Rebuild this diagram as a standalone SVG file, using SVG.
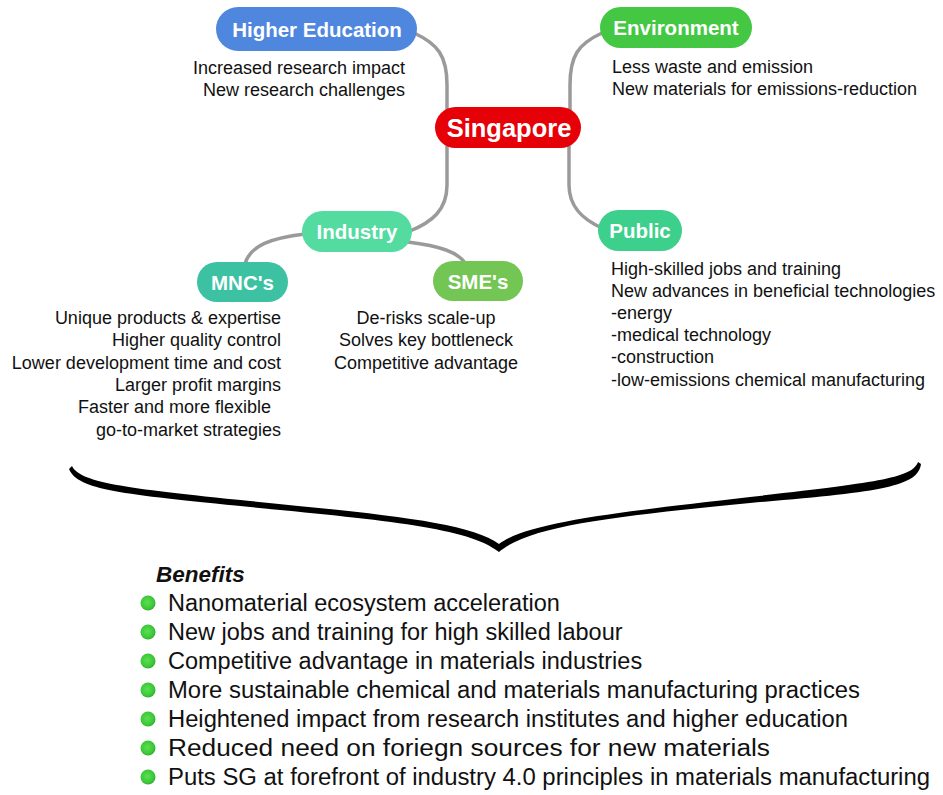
<svg xmlns="http://www.w3.org/2000/svg" width="943" height="795" viewBox="0 0 943 795">
<style>
.node text{font-family:"Liberation Sans",Arial,sans-serif;font-weight:bold;fill:#fff;text-anchor:middle;dominant-baseline:central}
.lbl{font-family:"Liberation Sans",Arial,sans-serif;font-size:18px;fill:#111}
.r{text-anchor:end}
.m{text-anchor:middle}
.conn path{fill:none;stroke:#9a9a9a;stroke-width:3.5;stroke-linecap:round}
.ben{font-family:"Liberation Sans",Arial,sans-serif;font-size:23.5px;fill:#111}
.dot{fill:url(#g)}
</style>
<defs>
<radialGradient id="g" cx="0.45" cy="0.45" r="0.6">
<stop offset="0" stop-color="#5be04f"/>
<stop offset="0.7" stop-color="#3cc83a"/>
<stop offset="1" stop-color="#2aa52a"/>
</radialGradient>
</defs>
<rect width="943" height="795" fill="#fff"/>
<g id="connectors" class="conn">
<path d="M414,33 C438,44 447,56 447,85 L447,110"/>
<path d="M602,33 C578,44 570,56 570,85 L570,110"/>
<path d="M447,146 L447,185 C447,210 432,222 410,231"/>
<path d="M569,146 L569,185 C569,208 584,220 602,228"/>
<path d="M305,234 C272,238 250,245 245,264"/>
<path d="M408,242 C440,246 458,252 466,264"/>
</g>
<g id="higher-education" class="node">
<rect x="216" y="7" width="201" height="44" rx="22" fill="#4f87df"/>
<text x="317" y="29" font-size="20.5">Higher Education</text>
</g>
<g id="environment" class="node">
<rect x="600" y="7" width="152" height="41" rx="20.5" fill="#44c843"/>
<text x="676" y="27.5" font-size="20.5">Environment</text>
</g>
<g id="singapore" class="node">
<rect x="435" y="107" width="146" height="41" rx="20.5" fill="#e60008"/>
<text x="509" y="128" font-size="25.5">Singapore</text>
</g>
<g id="industry" class="node">
<rect x="302" y="211" width="110" height="41" rx="20.5" fill="#53dba0"/>
<text x="357" y="231.5" font-size="20.5">Industry</text>
</g>
<g id="public" class="node">
<rect x="598" y="210" width="84" height="41" rx="20.5" fill="#3dd08c"/>
<text x="640" y="230.5" font-size="20.5">Public</text>
</g>
<g id="mncs" class="node">
<rect x="197" y="262" width="91" height="40" rx="20" fill="#3cc2a2"/>
<text x="242.5" y="282" font-size="20.5">MNC's</text>
</g>
<g id="smes" class="node">
<rect x="433" y="261" width="90" height="40" rx="20" fill="#73c654"/>
<text x="478" y="281" font-size="20.5">SME's</text>
</g>
<g id="higher-education-text" class="lbl r">
<text x="405" y="74">Increased research impact</text>
<text x="405" y="96">New research challenges</text>
</g>
<g id="environment-text" class="lbl">
<text x="612" y="73">Less waste and emission</text>
<text x="612" y="95">New materials for emissions-reduction</text>
</g>
<g id="mnc-text" class="lbl r">
<text x="281" y="324">Unique products &amp; expertise</text>
<text x="281" y="346">Higher quality control</text>
<text x="281" y="369">Lower development time and cost</text>
<text x="281" y="391">Larger profit margins</text>
<text x="271" y="413">Faster and more flexible</text>
<text x="281" y="436">go-to-market strategies</text>
</g>
<g id="sme-text" class="lbl m">
<text x="426" y="324">De-risks scale-up</text>
<text x="426" y="346">Solves key bottleneck</text>
<text x="426" y="369">Competitive advantage</text>
</g>
<g id="public-text" class="lbl">
<text x="611" y="275">High-skilled jobs and training</text>
<text x="611" y="297">New advances in beneficial technologies</text>
<text x="611" y="319">-energy</text>
<text x="611" y="341">-medical technology</text>
<text x="611" y="363">-construction</text>
<text x="611" y="386">-low-emissions chemical manufacturing</text>
</g>
<g id="brace">
<path d="M72,466 C80,482 120,488 250,501 C380,514 470,522 499,544 C528,522 620,512 750,497 C880,482 912,478 918,462 L921,464 C918,487 880,492 750,503 C620,516 530,525 499,552 C468,527 380,520 250,507 C120,494 78,490 69,469 Z" fill="#000"/>
</g>
<g id="benefits">
<text x="156" y="582" font-family="Liberation Sans, Arial, sans-serif" font-size="22.5" font-weight="bold" font-style="italic" fill="#111">Benefits</text>
<circle class="dot" cx="148" cy="603" r="7.5"/>
<circle class="dot" cx="148" cy="632" r="7.5"/>
<circle class="dot" cx="148" cy="661" r="7.5"/>
<circle class="dot" cx="148" cy="690" r="7.5"/>
<circle class="dot" cx="148" cy="719" r="7.5"/>
<circle class="dot" cx="148" cy="748" r="7.5"/>
<circle class="dot" cx="148" cy="777" r="7.5"/>
<text class="ben" x="168" y="611">Nanomaterial ecosystem acceleration</text>
<text class="ben" x="168" y="640">New jobs and training for high skilled labour</text>
<text class="ben" x="168" y="669">Competitive advantage in materials industries</text>
<text class="ben" x="168" y="698" textLength="692" lengthAdjust="spacingAndGlyphs">More sustainable chemical and materials manufacturing practices</text>
<text class="ben" x="168" y="727" textLength="680" lengthAdjust="spacingAndGlyphs">Heightened impact from research institutes and higher education</text>
<text class="ben" x="168" y="756" textLength="602" lengthAdjust="spacingAndGlyphs">Reduced need on foriegn sources for new materials</text>
<text class="ben" x="168" y="785" textLength="762" lengthAdjust="spacingAndGlyphs">Puts SG at forefront of industry 4.0 principles in materials manufacturing</text>
</g>
</svg>
